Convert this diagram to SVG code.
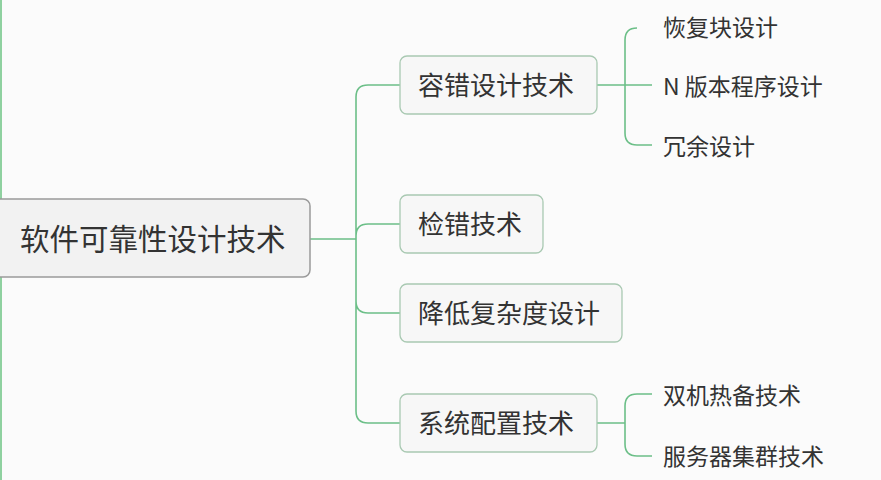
<svg xmlns="http://www.w3.org/2000/svg" width="881" height="480" viewBox="0 0 881 480">
<style>
.t{font-family:"Noto Sans CJK SC","Noto Sans",sans-serif;fill:#333}
.c{fill:none;stroke:#6cbf88;stroke-width:1.6}
.b{fill:#f7f7f7;stroke:#a9c9b2;stroke-width:1.3}
.m{font-size:26px}
.s{font-size:23px}
</style>
<rect width="881" height="480" fill="#fbfbfb"/>
<line x1="1" y1="0" x2="1" y2="480" stroke="#8fd1a0" stroke-width="2"/>
<g id="connectors">
<path class="c" d="M310 239H356M400 85H368Q356 85 356 97V411Q356 423 368 423H400M356 236Q356 224 368 224H400M356 301Q356 313 368 313H400"/>
<path class="c" d="M597 85H652M637 28Q625 28 625 40V133Q625 145 637 145H652M625 85H652"/>
<path class="c" d="M597 423H625M652 394H637Q625 394 625 406V444Q625 456 637 456H652"/>
</g>
<g id="root"><rect x="-6" y="199" width="316" height="78" rx="7" fill="#f2f2f2" stroke="#9a9a9a" stroke-width="1.5"/><text class="t" x="20" y="250" font-size="29.5">软件可靠性设计技术</text></g>
<g id="n1"><rect class="b" x="400" y="56" width="197" height="58" rx="7"/><text class="t m" x="418" y="95">容错设计技术</text></g>
<g id="n2"><rect class="b" x="400" y="195" width="143" height="58" rx="7"/><text class="t m" x="418" y="234">检错技术</text></g>
<g id="n3"><rect class="b" x="400" y="284" width="222" height="58" rx="7"/><text class="t m" x="418" y="323">降低复杂度设计</text></g>
<g id="n4"><rect class="b" x="400" y="394" width="197" height="58" rx="7"/><text class="t m" x="418" y="433">系统配置技术</text></g>
<g id="l1"><text class="t s" x="663" y="36">恢复块设计</text></g>
<g id="l2"><text class="t s" x="663" y="95">N 版本程序设计</text></g>
<g id="l3"><text class="t s" x="663" y="155">冗余设计</text></g>
<g id="l4"><text class="t s" x="663" y="404">双机热备技术</text></g>
<g id="l5"><text class="t s" x="663" y="465">服务器集群技术</text></g>
</svg>
